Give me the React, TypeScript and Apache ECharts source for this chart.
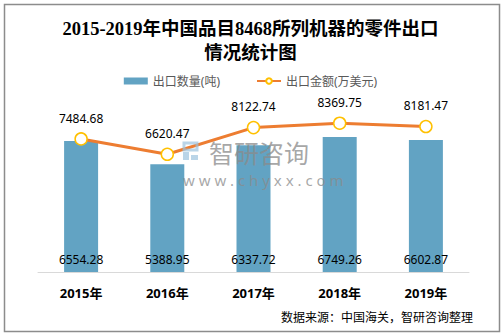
import React, { useEffect, useRef } from "react";
import * as echarts from "echarts";

const categories = ["2015年", "2016年", "2017年", "2018年", "2019年"];
const quantity = [6554.28, 5388.95, 6337.72, 6749.26, 6602.87];
const amount = [7484.68, 6620.47, 8122.74, 8369.75, 8181.47];
const titleLines = ["2015-2019年中国品目8468所列机器的零件出口", "情况统计图"];
const seriesNames = ["出口数量(吨)", "出口金额(万美元)"];
const sourceText = "数据来源：中国海关，智研咨询整理";

export default function App() {
  const ref = useRef<HTMLDivElement>(null);
  useEffect(() => {
    const chart = echarts.init(ref.current!, null, { renderer: "svg" });
    const font = "'Microsoft YaHei', 'Noto Sans', 'Noto Sans CJK SC', sans-serif";
    const wm = { z: 100, zlevel: 0 };
    chart.setOption({
      animation: false,
      backgroundColor: "#fff",
      title: {
        text: titleLines.join("\n"),
        left: "center",
        top: 12,
        textStyle: {
          fontFamily: "'Liberation Serif', 'Noto Sans CJK SC', serif",
          fontWeight: "bold",
          fontSize: 18.5,
          lineHeight: 24,
          color: "#000",
        },
      },
      legend: {
        top: 70,
        left: "center",
        itemGap: 36,
        itemWidth: 24,
        itemHeight: 7,
        textStyle: { fontFamily: font, fontSize: 12, color: "#595959" },
        data: [
          { name: seriesNames[0], icon: "rect" },
          { name: seriesNames[1] },
        ],
      },
      grid: { left: 38, right: 32, top: 112, bottom: 61, containLabel: false },
      xAxis: {
        type: "category",
        data: categories,
        axisLine: { lineStyle: { color: "#d9d9d9", width: 1 } },
        axisTick: { show: false },
        axisLabel: {
          margin: 14,
          fontFamily: font,
          fontWeight: "bold",
          fontSize: 13,
          color: "#000",
        },
      },
      yAxis: [
        { type: "value", min: 0, max: 8000, show: false, splitLine: { show: false } },
        { type: "value", min: 0, max: 9000, show: false, splitLine: { show: false } },
      ],
      series: [
        {
          name: seriesNames[0],
          type: "bar",
          data: quantity,
          barWidth: 34,
          itemStyle: { color: "#62A3C3" },
          label: {
            show: true,
            position: "insideBottom",
            distance: 7,
            fontFamily: font,
            fontSize: 12,
            color: "#000",
          },
          z: 2,
        },
        {
          name: seriesNames[1],
          type: "line",
          yAxisIndex: 1,
          data: amount,
          symbol: "circle",
          symbolSize: 12,
          lineStyle: { color: "#ED7D31", width: 3 },
          itemStyle: { color: "#fff", borderColor: "#FFC000", borderWidth: 1.5 },
          label: {
            show: true,
            position: "top",
            distance: 8,
            fontFamily: font,
            fontSize: 12,
            color: "#000",
          },
          z: 4,
        },
      ],
      graphic: [
        {
          type: "rect",
          left: 2,
          top: 2,
          shape: { width: 495, height: 327 },
          style: { fill: "none", stroke: "#8c8c8c", lineWidth: 1.5 },
          silent: true,
          z: 0,
        },
        {
          type: "text",
          right: 28,
          top: 311,
          style: { text: sourceText, font: `12px ${font}`, fill: "#000" },
        },
        { type: "rect", ...wm, x: 184, y: 143, shape: { x: 0, y: 0, width: 13, height: 7 }, style: { fill: "none", stroke: "#9cc3de", lineWidth: 3, opacity: 0.7 } },
        { type: "rect", ...wm, x: 183, y: 152, shape: { x: 0, y: 0, width: 6, height: 8 }, style: { fill: "#9cc3de", opacity: 0.7 } },
        { type: "rect", ...wm, x: 191, y: 155, shape: { x: 0, y: 0, width: 7, height: 5 }, style: { fill: "#9cc3de", opacity: 0.7 } },
        {
          type: "text",
          ...wm,
          x: 209,
          y: 140,
          style: { text: "智研咨询", font: `25px ${font}`, fill: "#8a8a8a", opacity: 0.75 },
        },
        {
          type: "text",
          ...wm,
          x: 183,
          y: 172,
          style: { text: "w w w . c h y x x . c o m", font: `15px ${font}`, fill: "#8a8a8a", opacity: 0.75 },
        },
      ],
    });
    return () => chart.dispose();
  }, []);
  return <div ref={ref} style={{ width: 501, height: 333, position: "absolute", left: 0, top: 0 }} />;
}
